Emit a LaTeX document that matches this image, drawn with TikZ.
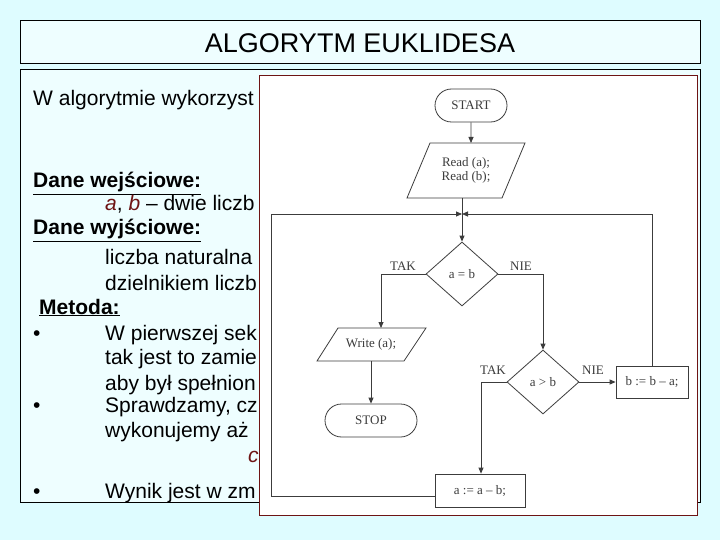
\documentclass[tikz,border=0pt]{standalone}
\usepackage{fontspec}
\setmainfont{Liberation Sans}
\newfontfamily\fcfont{Liberation Serif}
\usetikzlibrary{arrows.meta,shapes.geometric,shapes.misc}
\definecolor{bgc}{RGB}{222,252,255}
\definecolor{dred}{RGB}{110,20,20}
\definecolor{fl}{RGB}{60,60,60}
\begin{document}
\begin{tikzpicture}[x=1pt,y=-1pt,
 txt/.style={anchor=base west,inner sep=0,font=\fontsize{21}{23}\selectfont},
 fc/.style={draw=fl,line width=0.8pt,font=\fcfont\fontsize{13}{14}\selectfont,inner sep=0,text=fl},
 term/.style={fc,rounded rectangle,minimum width=#1},
 iotext/.style={font=\fcfont\fontsize{13}{14}\selectfont,text=fl,inner sep=0,align=center},
 iobox/.style={draw=fl,line width=0.8pt,fill=white},
 dec/.style={fc,diamond,minimum width=72pt,minimum height=64pt,inner sep=0},
 proc/.style={fc,rectangle},
 lbl/.style={font=\fcfont\fontsize{13}{14}\selectfont,text=fl,inner sep=0},
 ln/.style={draw=fl,line width=0.8pt},
 ar/.style={ln,-{Triangle[length=6pt,width=5pt]}}]
\useasboundingbox (0,0) rectangle (720,540);
\fill[bgc] (0,0) rectangle (720,540);
\draw[fill=white!50!bgc,line width=0.8pt] (20,20) rectangle (700,63);
\node[font=\fontsize{27}{29}\selectfont] (title) at (360,43) {ALGORYTM EUKLIDESA};
\draw[fill=white!50!bgc,line width=0.8pt] (20,69) rectangle (700,502);
\node[txt] (t1) at (33,106) {W algorytmie wykorzyst};
\node[txt] (t2) at (33,188) {\textbf{\underline{Dane wejściowe:}}};
\node[txt] (t3) at (105,211) {\textcolor{dred}{\textit{a}}, \textcolor{dred}{\textit{b}} – dwie liczb};
\node[txt] (t4) at (33,235) {\textbf{\underline{Dane wyjściowe:}}};
\node[txt] (t5) at (105,264) {liczba naturalna};
\node[txt] (t6) at (105,290) {dzielnikiem liczb};
\node[txt] (t7) at (39,314) {\textbf{\underline{Metoda:}}};
\node[txt] (b1) at (33,340) {•};
\node[txt] (t8) at (105,340) {W pierwszej sek};
\node[txt] (t9) at (105,364) {tak jest to zamie};
\node[txt] (t10) at (105,390) {aby był spełnion};
\node[txt] (b2) at (33,412) {•};
\node[txt] (t11) at (105,412) {Sprawdzamy, cz};
\node[txt] (t12) at (105,437) {wykonujemy aż};
\node[txt,text=dred] (t13) at (248,462) {\textit{c}};
\node[txt] (b3) at (33,498) {•};
\node[txt] (t14) at (105,498) {Wynik jest w zm};
% panel
\draw[fill=white,draw=dred,line width=0.8pt] (259,75) rectangle (697,515);
% flowchart
\node[term=72pt,minimum height=33pt] (start) at (471,105.5) {START};
\draw[iobox] (430,143) -- (525,143) -- (502,198) -- (407,198) -- cycle;
\node[iotext] (read) at (466,170.5) {Read (a);\\Read (b);};
\coordinate (j) at (462,214);
\coordinate (readb) at (462,198);
\node[dec] (d1) at (462,274) {a = b};
\draw[iobox] (338,328) -- (426,328) -- (404,361) -- (317,361) -- cycle;
\node[iotext] (write) at (371,344.5) {Write (a);};
\coordinate (writet) at (381,328);
\coordinate (writeb) at (371,361);
\node[term=92pt,minimum height=33pt] (stop) at (371,420.5) {STOP};
\node[dec] (d2) at (543,382) {a > b};
\node[proc,minimum width=72pt,minimum height=32pt] (bb) at (652,382) {b := b – a;};
\node[proc,minimum width=90pt,minimum height=33pt] (aa) at (480,490.5) {a := a – b;};
\draw[ar] (start) -- (start.south |- 0,143);
\draw[ln] (readb) -- (j);
\draw[ar] (j) -- (d1.north);
\draw[ar] (d1.west) -| (writet);
\draw[ar] (writeb) -- (stop.north);
\draw[ar] (d1.east) -| (d2.north);
\draw[ar] (d2.east) -- (bb.west);
\draw[ar] (d2.west) -| (aa.north -| 481,0);
\draw[ar] (aa.west |- 0,496) -| (271,214) -- (j);
\draw[ar] (bb.north) |- (j);
\node[lbl] (l1) at (403,266) {TAK};
\node[lbl] (l2) at (521,266) {NIE};
\node[lbl] (l3) at (493,370) {TAK};
\node[lbl] (l4) at (593,370) {NIE};
\end{tikzpicture}
\end{document}
